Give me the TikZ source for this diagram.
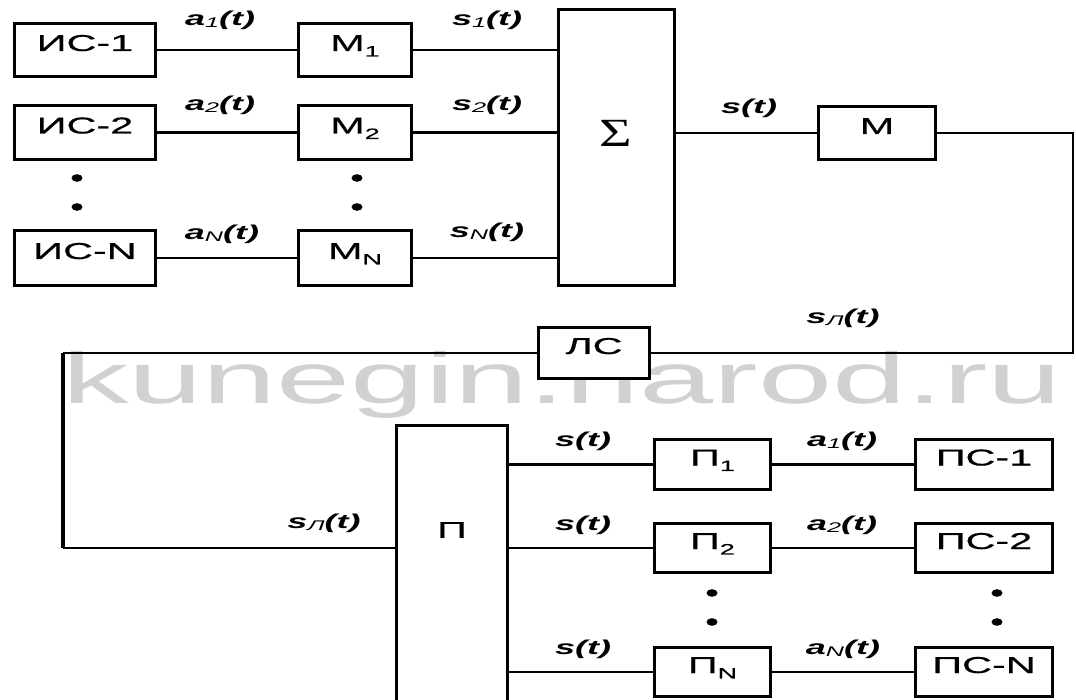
\documentclass[tikz,border=0pt]{standalone}
\usepackage{fontspec}
\setmainfont{Liberation Sans}[FakeStretch=1.8]
\newfontfamily\boxfont{Liberation Sans}[FakeStretch=1.8, FakeBold=0.5]
\newfontfamily\wmfont{Liberation Sans}[FakeStretch=1.85]
\newfontfamily\sigfont{Liberation Serif}[FakeStretch=1.4]
\usetikzlibrary{calc}
\newcommand{\sg}[2]{#1\raisebox{-0.25ex}{\fontsize{14}{14}\selectfont\mdseries #2}(t)}
\newcommand{\bsub}[2]{#1\raisebox{-0.45ex}{\fontsize{15}{15}\selectfont #2}}
\tikzset{
  blk/.style={draw, fill=white, line width=3pt, inner sep=0pt, text height=16pt, text depth=14pt, font=\boxfont\fontsize{23}{23}\selectfont},
  wire/.style={line width=2.6pt},
  lbl/.style={inner sep=0pt, font=\fontsize{20}{20}\selectfont\bfseries\itshape},
  wm/.style={inner sep=0pt, text=black!18, font=\wmfont\fontsize{72}{72}\selectfont},
}
\begin{document}
\begin{tikzpicture}[x=1pt,y=-1pt]
\useasboundingbox (0,0) rectangle (1076,700);
\clip (0,0) rectangle (1076,700);
\fill[white] (0,0) rectangle (1076,700);
% watermark
\node[wm, anchor=base west] (wmark) at (62,403) {kunegin.narod.ru};

% sources
\node[blk, minimum width=141pt, minimum height=53pt] (is1) at (85,50) {ИС-1};
\node[blk, minimum width=141pt, minimum height=54pt] (is2) at (85,132.5) {ИС-2};
\node[blk, minimum width=141pt, minimum height=55pt] (isN) at (85,258) {ИС-N};
% modulators
\node[blk, minimum width=113pt, minimum height=53pt] (m1) at (355,50) {\bsub{М}{1}};
\node[blk, minimum width=113pt, minimum height=54pt] (m2) at (355,132.5) {\bsub{М}{2}};
\node[blk, minimum width=113pt, minimum height=55pt] (mN) at (355,258) {\bsub{М}{N}};
% summator
\node[blk, minimum width=116pt, minimum height=276pt] (sum) at (616.5,147.5) {};
\node[inner sep=0pt, font=\sigfont\fontsize{40}{40}\selectfont] (sigma) at (616,133) {Σ};
% main modulator
\node[blk, minimum width=117pt, minimum height=53pt] (mm) at (877,133) {М};
% line
\node[blk, minimum width=111pt, minimum height=51pt] (ls) at (594,353) {ЛС};
% receiver
\node[blk, minimum width=111pt, minimum height=293pt] (pr) at (452,572) {};
\node[inner sep=0pt, font=\boxfont\fontsize{23}{23}\selectfont] (prl) at (452,530) {П};
\node[blk, minimum width=116pt, minimum height=50pt] (p1) at (712.5,464.5) {\bsub{П}{1}};
\node[blk, minimum width=116pt, minimum height=49pt] (p2) at (712.5,548) {\bsub{П}{2}};
\node[blk, minimum width=116pt, minimum height=49pt] (pN) at (712.5,672) {\bsub{П}{N}};
\node[blk, minimum width=137pt, minimum height=50pt] (ps1) at (984,464.5) {ПС-1};
\node[blk, minimum width=137pt, minimum height=49pt] (ps2) at (984,548) {ПС-2};
\node[blk, minimum width=137pt, minimum height=49pt] (psN) at (984,672) {ПС-N};

% corner points
\coordinate (cr1) at (1073,133);
\coordinate (cr2) at (1073,353);
\coordinate (cl1) at (63,353);
\coordinate (cl2) at (63,548);

% wires
\draw[wire] (is1) -- (m1);
\draw[wire] (is2) -- (m2);
\draw[wire] (isN) -- (mN);
\draw[wire] (m1.east) -- (m1.east -| sum.west);
\draw[wire] (m2.east) -- (m2.east -| sum.west);
\draw[wire] (mN.east) -- (mN.east -| sum.west);
\draw[wire] (sum.east |- mm.west) -- (mm.west);
\draw[wire] (mm.east) -- (cr1) -- (cr2) -- (ls.east);
\draw[wire] (ls.west) -- (cl1);
\draw[line width=4.5pt] (cl1) -- (cl2);
\draw[wire] (cl2) -- (cl2 -| pr.west);
\draw[wire] (pr.east |- p1.west) -- (p1.west);
\draw[wire] (pr.east |- p2.west) -- (p2.west);
\draw[wire] (pr.east |- pN.west) -- (pN.west);
\draw[wire] (p1) -- (ps1);
\draw[wire] (p2) -- (ps2);
\draw[wire] (pN) -- (psN);

% dots
\foreach \x/\y in {77/178, 77/207, 357/178, 357/207, 712/593, 712/622, 997/593, 997/622}
  \fill (\x,\y) ellipse [x radius=5.5pt, y radius=3.8pt];

% labels
\node[lbl] (la1) at (220,20) {\sg{a}{1}};
\node[lbl] (la2) at (220,105) {\sg{a}{2}};
\node[lbl] (laN) at (222,234) {\sg{a}{N}};
\node[lbl] (ls1) at (487,20) {\sg{s}{1}};
\node[lbl] (ls2) at (487,105) {\sg{s}{2}};
\node[lbl] (lsN) at (487,232) {\sg{s}{N}};
\node[lbl] (lst) at (749,108) {s(t)};
\node[lbl] (lsl1) at (843,318) {\sg{s}{Л}};
\node[lbl] (lsl2) at (324,523) {\sg{s}{Л}};
\node[lbl] (lb1) at (583,441) {s(t)};
\node[lbl] (lb2) at (583,525) {s(t)};
\node[lbl] (lbN) at (583,649) {s(t)};
\node[lbl] (lc1) at (842,441) {\sg{a}{1}};
\node[lbl] (lc2) at (842,525) {\sg{a}{2}};
\node[lbl] (lcN) at (843,649) {\sg{a}{N}};
\end{tikzpicture}
\end{document}
